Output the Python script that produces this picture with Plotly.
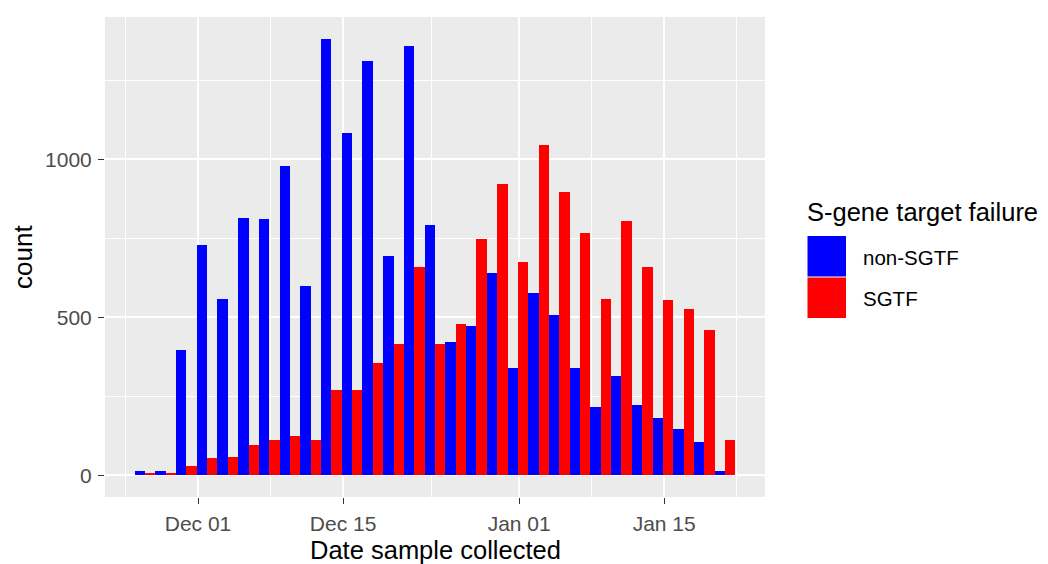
import pandas as pd
import plotly.graph_objects as go

# 2-day bins of sample collection date
bin_dates = ['2020-11-26', '2020-11-28', '2020-11-30', '2020-12-02', '2020-12-04',
             '2020-12-06', '2020-12-08', '2020-12-10', '2020-12-12', '2020-12-14',
             '2020-12-16', '2020-12-18', '2020-12-20', '2020-12-22', '2020-12-24',
             '2020-12-26', '2020-12-28', '2020-12-30', '2021-01-01', '2021-01-03',
             '2021-01-05', '2021-01-07', '2021-01-09', '2021-01-11', '2021-01-13',
             '2021-01-15', '2021-01-17', '2021-01-19', '2021-01-21']

non_sgtf = [12, 12, 396, 728, 559, 815, 810, 980, 600, 1381,
            1084, 1311, 693, 1359, 792, 420, 471, 641, 338, 577,
            507, 338, 216, 315, 221, 180, 145, 104, 13]
sgtf = [8, 7, 30, 53, 58, 94, 111, 123, 111, 269,
        269, 355, 415, 659, 415, 477, 747, 921, 675, 1044,
        897, 768, 559, 805, 659, 553, 525, 460, 111]

tick_dates = ['2020-12-01', '2020-12-15', '2021-01-01', '2021-01-15']
tick_labels = ['Dec 01', 'Dec 15', 'Jan 01', 'Jan 15']
minor_dates = ['2020-11-24', '2020-12-08', '2020-12-23 12:00', '2021-01-08', '2021-01-22']

groups = ['non-SGTF', 'SGTF']
colours = ['#0000FF', '#FF0000']

x = pd.to_datetime(bin_dates) - pd.Timedelta(hours=3)   # ggplot bins sit a touch left of midnight

FONT = 'Liberation Sans, Arial, sans-serif'

# page has an 8px body margin, so the figure is 8px smaller each way
W, H = 1040, 556
L, T, R, B = 97, 9, 283, 67
pw = W - L - R
ph = H - T - B

def px(xp):
    return (xp - 8 - L) / pw

def py(yp):
    return (H - B - (yp - 8)) / ph

fig = go.Figure()
fig.add_trace(go.Bar(x=x, y=non_sgtf, name=groups[0], marker=dict(color=colours[0], line=dict(width=0))))
fig.add_trace(go.Bar(x=x, y=sgtf, name=groups[1], marker=dict(color=colours[1], line=dict(width=0))))

fig.update_layout(
    width=W, height=H, autosize=False,
    margin=dict(l=L, r=R, t=T, b=B),
    barmode='group', bargap=0, bargroupgap=0,
    plot_bgcolor='#EBEBEB', paper_bgcolor='white',
    showlegend=False,
    font=dict(family=FONT, color='black'),
)

fig.update_xaxes(
    type='date',
    range=['2020-11-22 00:30', '2021-01-24 17:30'],
    tickmode='array', tickvals=tick_dates, ticktext=tick_labels,
    tickfont=dict(size=21, color='#4D4D4D'),
    ticks='outside', ticklen=6, tickwidth=1, tickcolor='#333333',
    ticklabelstandoff=2,
    showgrid=True, gridcolor='white', gridwidth=2,
    minor=dict(tickmode='array', tickvals=minor_dates, showgrid=True, gridcolor='white', gridwidth=1, ticks=''),
    showline=False, zeroline=False,
)
fig.update_yaxes(
    range=[-69, 1450],
    tickmode='array', tickvals=[0, 500, 1000],
    tickfont=dict(size=21, color='#4D4D4D'),
    ticks='outside', ticklen=6, tickwidth=1, tickcolor='#333333',
    ticklabelstandoff=2,
    showgrid=True, gridcolor='white', gridwidth=2,
    minor=dict(tickmode='array', tickvals=[250, 750, 1250], showgrid=True, gridcolor='white', gridwidth=1, ticks=''),
    showline=False, zeroline=False,
)

# axis titles
fig.add_annotation(text='Date sample collected', xref='paper', yref='paper', x=0.5, y=py(550),
                   xanchor='center', yanchor='middle', showarrow=False, font=dict(size=25.5, color='black'))
fig.add_annotation(text='count', xref='paper', yref='paper', x=px(23), y=0.5, textangle=-90,
                   xanchor='center', yanchor='middle', showarrow=False, font=dict(size=26, color='black'))

# legend drawn by hand so the keys are ggplot-sized
fig.add_annotation(text='S-gene target failure', xref='paper', yref='paper', x=px(805), y=py(212),
                   xanchor='left', yanchor='middle', showarrow=False, font=dict(size=25.5, color='black'))
key_tops = [236, 277.5]
for i in range(2):
    top = key_tops[i]
    fig.add_shape(type='rect', xref='paper', yref='paper',
                  x0=px(807.5), x1=px(846), y0=py(top), y1=py(top + 40.5),
                  fillcolor=colours[i], line=dict(width=0))
    fig.add_annotation(text=groups[i], xref='paper', yref='paper', x=px(861),
                       y=py(top + 21), xanchor='left', yanchor='middle',
                       showarrow=False, font=dict(size=20.5, color='black'))

fig.write_html("out.html")
